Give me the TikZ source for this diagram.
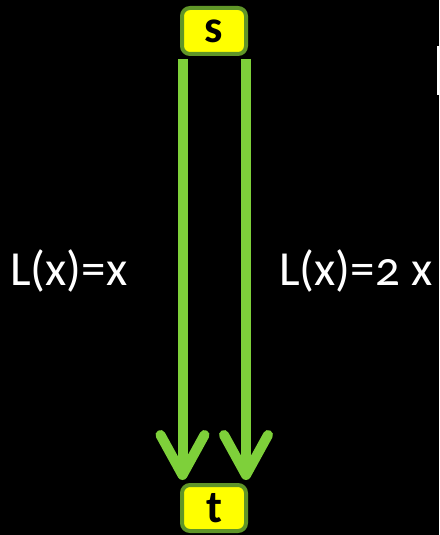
\documentclass[tikz,border=0pt]{standalone}
\usepackage{fontspec}
\setmainfont[Numbers=OldStyle]{Carlito}
\usepackage{tikz}
\usetikzlibrary{arrows.meta,positioning}
\definecolor{edgegreen}{RGB}{126,208,58}
\definecolor{boxgreen}{RGB}{96,150,40}
\definecolor{boxyellow}{RGB}{255,255,0}

\begin{document}
\begin{tikzpicture}[
  x=1pt, y=-1pt,
  terminal/.style={draw=boxgreen, line width=4pt, fill=boxyellow, rounded corners=8pt, minimum width=64pt, minimum height=46pt, inner sep=0pt, font=\fontsize{46}{46}\selectfont\bfseries},
  cost/.style={text=white, inner sep=0pt, anchor=base west, font=\fontsize{49}{49}\selectfont},
  link/.style={draw=edgegreen, line width=10pt, -{Straight Barb[length=40pt, width=44pt, round]}}
]

  % black page
  \fill[black] (0,0) rectangle (439,535);
  \useasboundingbox (0,0) rectangle (439,535);

  % source and sink
  \node[terminal] (s) at (214,31) {s};
  \node[terminal] (t) at (214,508) {t};

  % two parallel edges s -> t
  \draw[link] ([xshift=-31.5pt, yshift=-3pt]s.south) -- ([xshift=-31.5pt, yshift=3pt]t.north);
  \draw[link] ([xshift=32pt, yshift=-3pt]s.south) -- ([xshift=32pt, yshift=3pt]t.north);

  % edge costs
  \node[cost] (costa) at (10,285) {L(x)=x};
  \node[cost] (costb) at (279,285) {L(x)=2 x};

  % clipped title glyph at the right border
  \fill[white] (437,46) rectangle (439,95);

\end{tikzpicture}
\end{document}
